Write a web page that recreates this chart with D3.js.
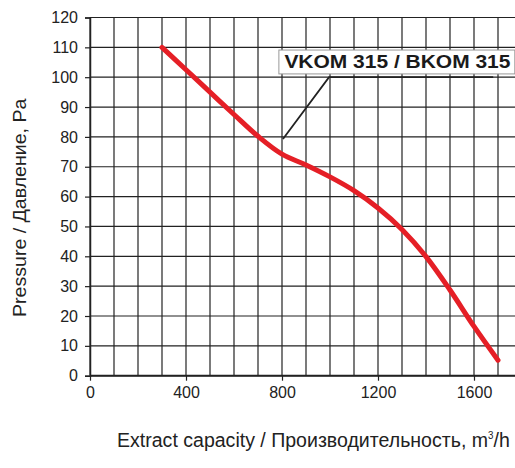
<!DOCTYPE html>
<html><head><meta charset="utf-8">
<script src="https://cdn.jsdelivr.net/npm/d3@7"></script>
<style>html,body{margin:0;padding:0;background:#fff;overflow:hidden}</style>
</head><body>
<svg id="c" width="515" height="468"></svg>
<script>
const flow = [300,400,500,600,700,800,900,1000,1100,1200,1300,1400,1500,1600,1700];
const pressure = [110,102.5,95,87.5,80.2,74.2,70.6,66.6,62,56.2,49,39.9,28.7,16.5,5.2];
const xTicks = [0,400,800,1200,1600];
const yTicks = [0,10,20,30,40,50,60,70,80,90,100,110,120];
const seriesLabel = "VKOM 315 / BKOM 315";
const leader = [[804,79.3],[996,100],[1680,100]];
const labelBox = {x0:787, x1:1770, y0:109.1, y1:101.1};

const svg = d3.select("#c");
const x = d3.scaleLinear().domain([0,1800]).range([90,522]);
const y = d3.scaleLinear().domain([0,120]).range([375.7,17.5]);
const font = "'Liberation Sans',Arial,sans-serif";

// grid
const g = svg.append("g");
g.selectAll(".vg").data(d3.range(0,1801,100)).join("line")
  .attr("x1",d=>x(d)).attr("x2",d=>x(d)).attr("y1",y(0)).attr("y2",y(120))
  .attr("stroke","#222").attr("stroke-width",1.2);
g.selectAll(".hg").data(yTicks).join("line")
  .attr("x1",x(0)).attr("x2",515).attr("y1",d=>y(d)).attr("y2",d=>y(d))
  .attr("stroke","#222").attr("stroke-width",1.2);

// axes
const yAxis = svg.append("g").attr("transform",`translate(${x(0)},0)`)
  .call(d3.axisLeft(y).tickValues(yTicks).tickSize(5).tickPadding(7));
yAxis.select(".domain").attr("stroke","#222").attr("stroke-width",1.5);
yAxis.selectAll(".tick line").attr("stroke","#222").attr("stroke-width",1.2);
yAxis.selectAll("text").attr("font-family",font).attr("font-size",16).attr("fill","#222");

const xAxis = svg.append("g").attr("transform",`translate(0,${y(0)})`)
  .call(d3.axisBottom(x).tickValues(xTicks).tickSize(5).tickPadding(6).tickFormat(d3.format("d")));
xAxis.select(".domain").remove();
svg.append("line").attr("x1",x(0)).attr("x2",515).attr("y1",y(0)).attr("y2",y(0)).attr("stroke","#222").attr("stroke-width",2);
xAxis.selectAll(".tick line").attr("stroke","#222").attr("stroke-width",1.2);
xAxis.selectAll("text").attr("font-family",font).attr("font-size",16).attr("fill","#222");

// curve
const line = d3.line().x((d,i)=>x(flow[i])).y(d=>y(d)).curve(d3.curveCatmullRom.alpha(0.5));
svg.append("path").attr("d",line(pressure)).attr("fill","none")
  .attr("stroke","#e51f26").attr("stroke-width",5).attr("stroke-linecap","round").attr("stroke-linejoin","round");

// annotation
svg.append("rect").attr("x",x(labelBox.x0)).attr("y",y(labelBox.y0))
  .attr("width",x(labelBox.x1)-x(labelBox.x0)).attr("height",y(labelBox.y1)-y(labelBox.y0))
  .attr("fill","#fff").attr("stroke","#999").attr("stroke-width",1);
svg.append("path").attr("d",d3.line().x(d=>x(d[0])).y(d=>y(d[1]))(leader))
  .attr("fill","none").attr("stroke","#222").attr("stroke-width",1.8);
svg.append("text").attr("x",x(810)).attr("y",y(103.2))
  .attr("font-family",font).attr("font-weight","bold").attr("font-size",19)
  .attr("textLength",226).attr("lengthAdjust","spacingAndGlyphs").attr("fill","#1a1a1a").text(seriesLabel);

// titles (condensed by horizontal scaling)
const ytG = svg.append("g");
const yt = ytG.append("text").attr("font-family",font).attr("font-size",19).attr("fill","#222")
  .text("Pressure / Давление, Pa");
const sy = 219 / yt.node().getBBox().width;
ytG.attr("transform",`translate(26,317) rotate(-90) scale(${sy},1)`);

const xtG = svg.append("g");
const xt = xtG.append("text").attr("font-family",font).attr("font-size",20).attr("fill","#222");
xt.append("tspan").text("Extract capacity / Производительность, m");
xt.append("tspan").attr("font-size",10).attr("dy",-8).text("3");
xt.append("tspan").attr("dy",8).text("/h");
const sx = 393 / xt.node().getBBox().width;
xtG.attr("transform",`translate(117,447) scale(${sx},1)`);
</script>
</body></html>
